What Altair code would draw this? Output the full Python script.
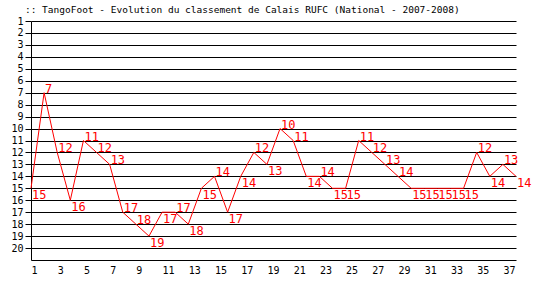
import altair as alt
import pandas as pd

journees = list(range(1, 39))
classement = [15, 7, 12, 16, 11, 12, 13, 17, 18, 19, 17, 17, 18, 15, 14, 17, 14, 12, 13, 10,
              11, 14, 14, 15, 15, 11, 12, 13, 14, 15, 15, 15, 15, 15, 12, 14, 13, 14]
y_ticks = list(range(1, 21))
x_ticks = list(range(1, 38, 2))
title_text = ":: TangoFoot - Evolution du classement de Calais RUFC (National - 2007-2008)"

df = pd.DataFrame({"j": journees, "rang": classement})
nxt = df["rang"].shift(-1)
df["pos"] = ["haut" if (pd.notna(n) and r < n) else "bas" for r, n in zip(df["rang"], nxt)]

MONO = "DejaVu Sans Mono"
RED = "#ff0000"

x_enc = alt.X("j:Q", scale=alt.Scale(domain=[1, 38], nice=False, zero=False),
              axis=alt.Axis(values=x_ticks, title=None, grid=False, ticks=False,
                            labelAlign="left", labelPadding=5, labelFont=MONO,
                            labelFontSize=10, labelColor="black", domainColor="black",
                            labelFlush=False, labelOverlap=False))
y_enc = alt.Y("rang:Q", scale=alt.Scale(domain=[1, 21], nice=False, zero=False, reverse=True),
              axis=alt.Axis(values=y_ticks, title=None, grid=True, gridColor="black",
                            gridOpacity=1, gridWidth=1, tickColor="black", tickSize=6,
                            labelPadding=2, labelFont=MONO, labelFontSize=10,
                            labelColor="black", domainColor="black", labelOverlap=False,
                            labelFlush=False))

base = alt.Chart(df).encode(x=x_enc, y=y_enc)
line = base.mark_line(color=RED, strokeWidth=1)
above = base.transform_filter(alt.datum.pos == "haut").mark_text(
    color=RED, font=MONO, fontSize=12, align="left", baseline="alphabetic", dx=1, dy=0
).encode(text="rang:Q")
below = base.transform_filter(alt.datum.pos == "bas").mark_text(
    color=RED, font=MONO, fontSize=12, align="left", baseline="top", dx=1, dy=2
).encode(text="rang:Q")

chart = alt.layer(line, above, below).properties(
    width=485, height=239,
    title=alt.TitleParams(title_text, anchor="start", dx=14, offset=2, font=MONO,
                          fontSize=9.5, fontWeight="normal", color="black"),
    autosize=alt.AutoSizeParams(type="none"),
    padding={"left": 31, "top": 21, "right": 24, "bottom": 40},
    background="white",
).configure_view(stroke=None)

chart.save("out.html", embed_options={"renderer": "svg", "actions": False})
